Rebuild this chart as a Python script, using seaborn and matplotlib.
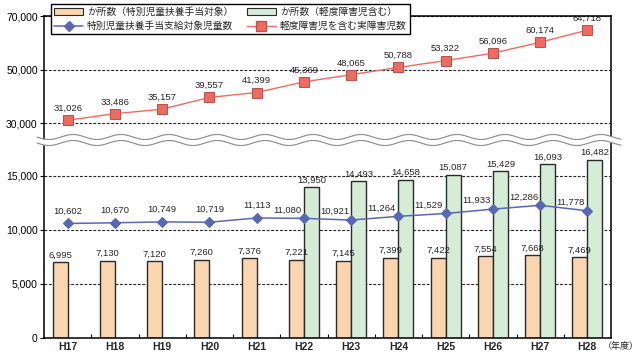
import numpy as np
import pandas as pd
import seaborn as sns
import matplotlib.pyplot as plt
from matplotlib.patches import Patch
from matplotlib.lines import Line2D
from matplotlib.ticker import FuncFormatter

# -------------------------
# data
# -------------------------
years = ['H17', 'H18', 'H19', 'H20', 'H21', 'H22', 'H23', 'H24', 'H25', 'H26', 'H27', 'H28']

sites_special = [6995, 7130, 7120, 7260, 7376, 7221, 7145, 7399, 7422, 7554, 7668, 7469]
sites_mild = [np.nan] * 5 + [13950, 14493, 14658, 15087, 15429, 16093, 16482]
children_special = [10602, 10670, 10749, 10719, 11113, 11080, 10921, 11264, 11529, 11933, 12286, 11778]
children_total = [31026, 33486, 35157, 39557, 41399, 45369, 48065, 50788, 53322, 56096, 60174, 64718]

lbl_sites_special = 'か所数（特別児童扶養手当対象）'
lbl_sites_mild = 'か所数（軽度障害児含む）'
lbl_children_special = '特別児童扶養手当支給対象児童数'
lbl_children_total = '軽度障害児を含む実障害児数'

top_ticks = [30000, 50000, 70000]
bot_ticks = [0, 5000, 10000, 15000]

c_orange = '#f9d5b0'
c_green = '#d5ecd7'
c_blue = '#5a68b3'
c_red = '#ec6c62'

# -------------------------
# style
# -------------------------
sns.set_theme(style='white')
plt.rcParams['font.family'] = ['Liberation Sans', 'Noto Sans CJK JP']
label_font = ['Liberation Sans Narrow', 'Liberation Sans']

fig = plt.figure(figsize=(6.4, 3.58), dpi=100)
W, H = 640, 358
left, right = 44 / W, 611 / W
ax_top = fig.add_axes([left, 1 - 140 / H, right - left, 124 / H])
ax_bot = fig.add_axes([left, 20 / H, right - left, 198 / H])

# -------------------------
# bottom panel: bars + blue line
# -------------------------
df_bars = pd.DataFrame({
    'year': years * 2,
    'series': [lbl_sites_special] * 12 + [lbl_sites_mild] * 12,
    'value': sites_special + sites_mild,
})
sns.barplot(data=df_bars, x='year', y='value', hue='series',
            hue_order=[lbl_sites_special, lbl_sites_mild],
            palette=[c_orange, c_green], saturation=1, width=0.64, errorbar=None,
            edgecolor='#2a2a2a', linewidth=1.0, legend=False, ax=ax_bot)
for cont in ax_bot.containers:
    ax_bot.bar_label(cont, fmt='{:,.0f}', padding=2, fontsize=6.8, family=label_font)

sns.pointplot(x=years, y=children_special, color=c_blue, marker='D', markersize=5,
              linewidth=1.1, errorbar=None, ax=ax_bot)
for i, v in enumerate(children_special):
    if i < 5:
        ax_bot.annotate(f'{v:,}', (i, v), xytext=(0, 9), textcoords='offset points',
                        ha='center', va='center', fontsize=6.8, family=label_font)
    else:
        ax_bot.annotate(f'{v:,}', (i, v), xytext=(-12, 6), textcoords='offset points',
                        ha='center', va='center', fontsize=6.8, family=label_font)

ax_bot.set_ylim(0, 18333)
ax_bot.set_yticks(bot_ticks)

# -------------------------
# top panel: red line
# -------------------------
sns.pointplot(x=years, y=children_total, color=c_red, marker='s', markersize=7,
              markeredgecolor='#c0504a', linewidth=1.0, errorbar=None, ax=ax_top)
for i, v in enumerate(children_total):
    ax_top.annotate(f'{v:,}', (i, v), xytext=(0, 8.5), textcoords='offset points',
                    ha='center', va='center', fontsize=6.8, family=label_font)
ax_top.set_ylim(23645, 70000)
ax_top.set_yticks(top_ticks)

# -------------------------
# axes cosmetics
# -------------------------
fmt = FuncFormatter(lambda v, p: f'{v:,.0f}')
for ax in (ax_top, ax_bot):
    ax.set_xlim(-0.5, 11.5)
    ax.set_xlabel('')
    ax.set_ylabel('')
    ax.yaxis.set_major_formatter(fmt)
    ax.set_axisbelow(True)
    ax.yaxis.grid(True, color='#222222', linestyle=(0, (2.5, 1.5)), linewidth=0.8)
    ax.xaxis.grid(False)
    ax.tick_params(axis='y', which='major', direction='out', length=3, width=0.8,
                   labelsize=7.5, pad=1.5, colors='black', left=True)
    for s in ax.spines.values():
        s.set_color('black')
        s.set_linewidth(1.1)

ax_top.spines['bottom'].set_visible(False)
ax_top.tick_params(axis='x', bottom=False, labelbottom=False)
ax_bot.spines['top'].set_visible(False)

ax_bot.set_xticks(np.arange(0.5, 11, 1), minor=True)
ax_bot.tick_params(axis='x', which='major', length=0, labelsize=7.5, pad=3)
ax_bot.tick_params(axis='x', which='minor', direction='in', length=3, width=0.8,
                   bottom=True, color='black')
for t in ax_bot.get_xticklabels():
    t.set_fontweight('bold')

fig.text(621 / W, 1 - 347 / H, '（年度）', ha='center', va='center', fontsize=6.5)

# -------------------------
# axis break wave
# -------------------------
ov = fig.add_axes([0, 0, 1, 1], zorder=10)
ov.set_xlim(0, W)
ov.set_ylim(H, 0)
ov.axis('off')
xs = np.linspace(37, 621, 800)
y1 = 137 + 2.5 * np.sin(2 * np.pi * (xs - 37) / 48)
y2 = y1 + 6
ov.fill_between(xs, y1, y2, color='white', lw=0)
ov.plot(xs, y1, color='#8a8a8a', lw=0.8)
ov.plot(xs, y2, color='#8a8a8a', lw=0.8)

# -------------------------
# legend
# -------------------------
handles = [
    Patch(facecolor=c_orange, edgecolor='#2a2a2a', linewidth=0.8),
    Line2D([], [], color=c_blue, marker='D', markersize=5, linewidth=1.1),
    Patch(facecolor=c_green, edgecolor='#2a2a2a', linewidth=0.8),
    Line2D([], [], color=c_red, marker='s', markersize=7, markeredgecolor='#c0504a', linewidth=1.0),
]
labels = [lbl_sites_special, lbl_children_special, lbl_sites_mild, lbl_children_total]
leg = fig.legend(handles, labels, ncol=2, loc='upper left',
                 bbox_to_anchor=(51 / W, 1 - 4 / H), frameon=True, fancybox=False,
                 edgecolor='black', framealpha=1, fontsize=7, handlelength=3.0,
                 handleheight=0.6, handletextpad=0.4, columnspacing=1.4,
                 labelspacing=0.4, borderpad=0.3, borderaxespad=0)
leg.get_frame().set_linewidth(1.0)
leg.set_zorder(20)

fig.savefig('out.png', dpi=100)
